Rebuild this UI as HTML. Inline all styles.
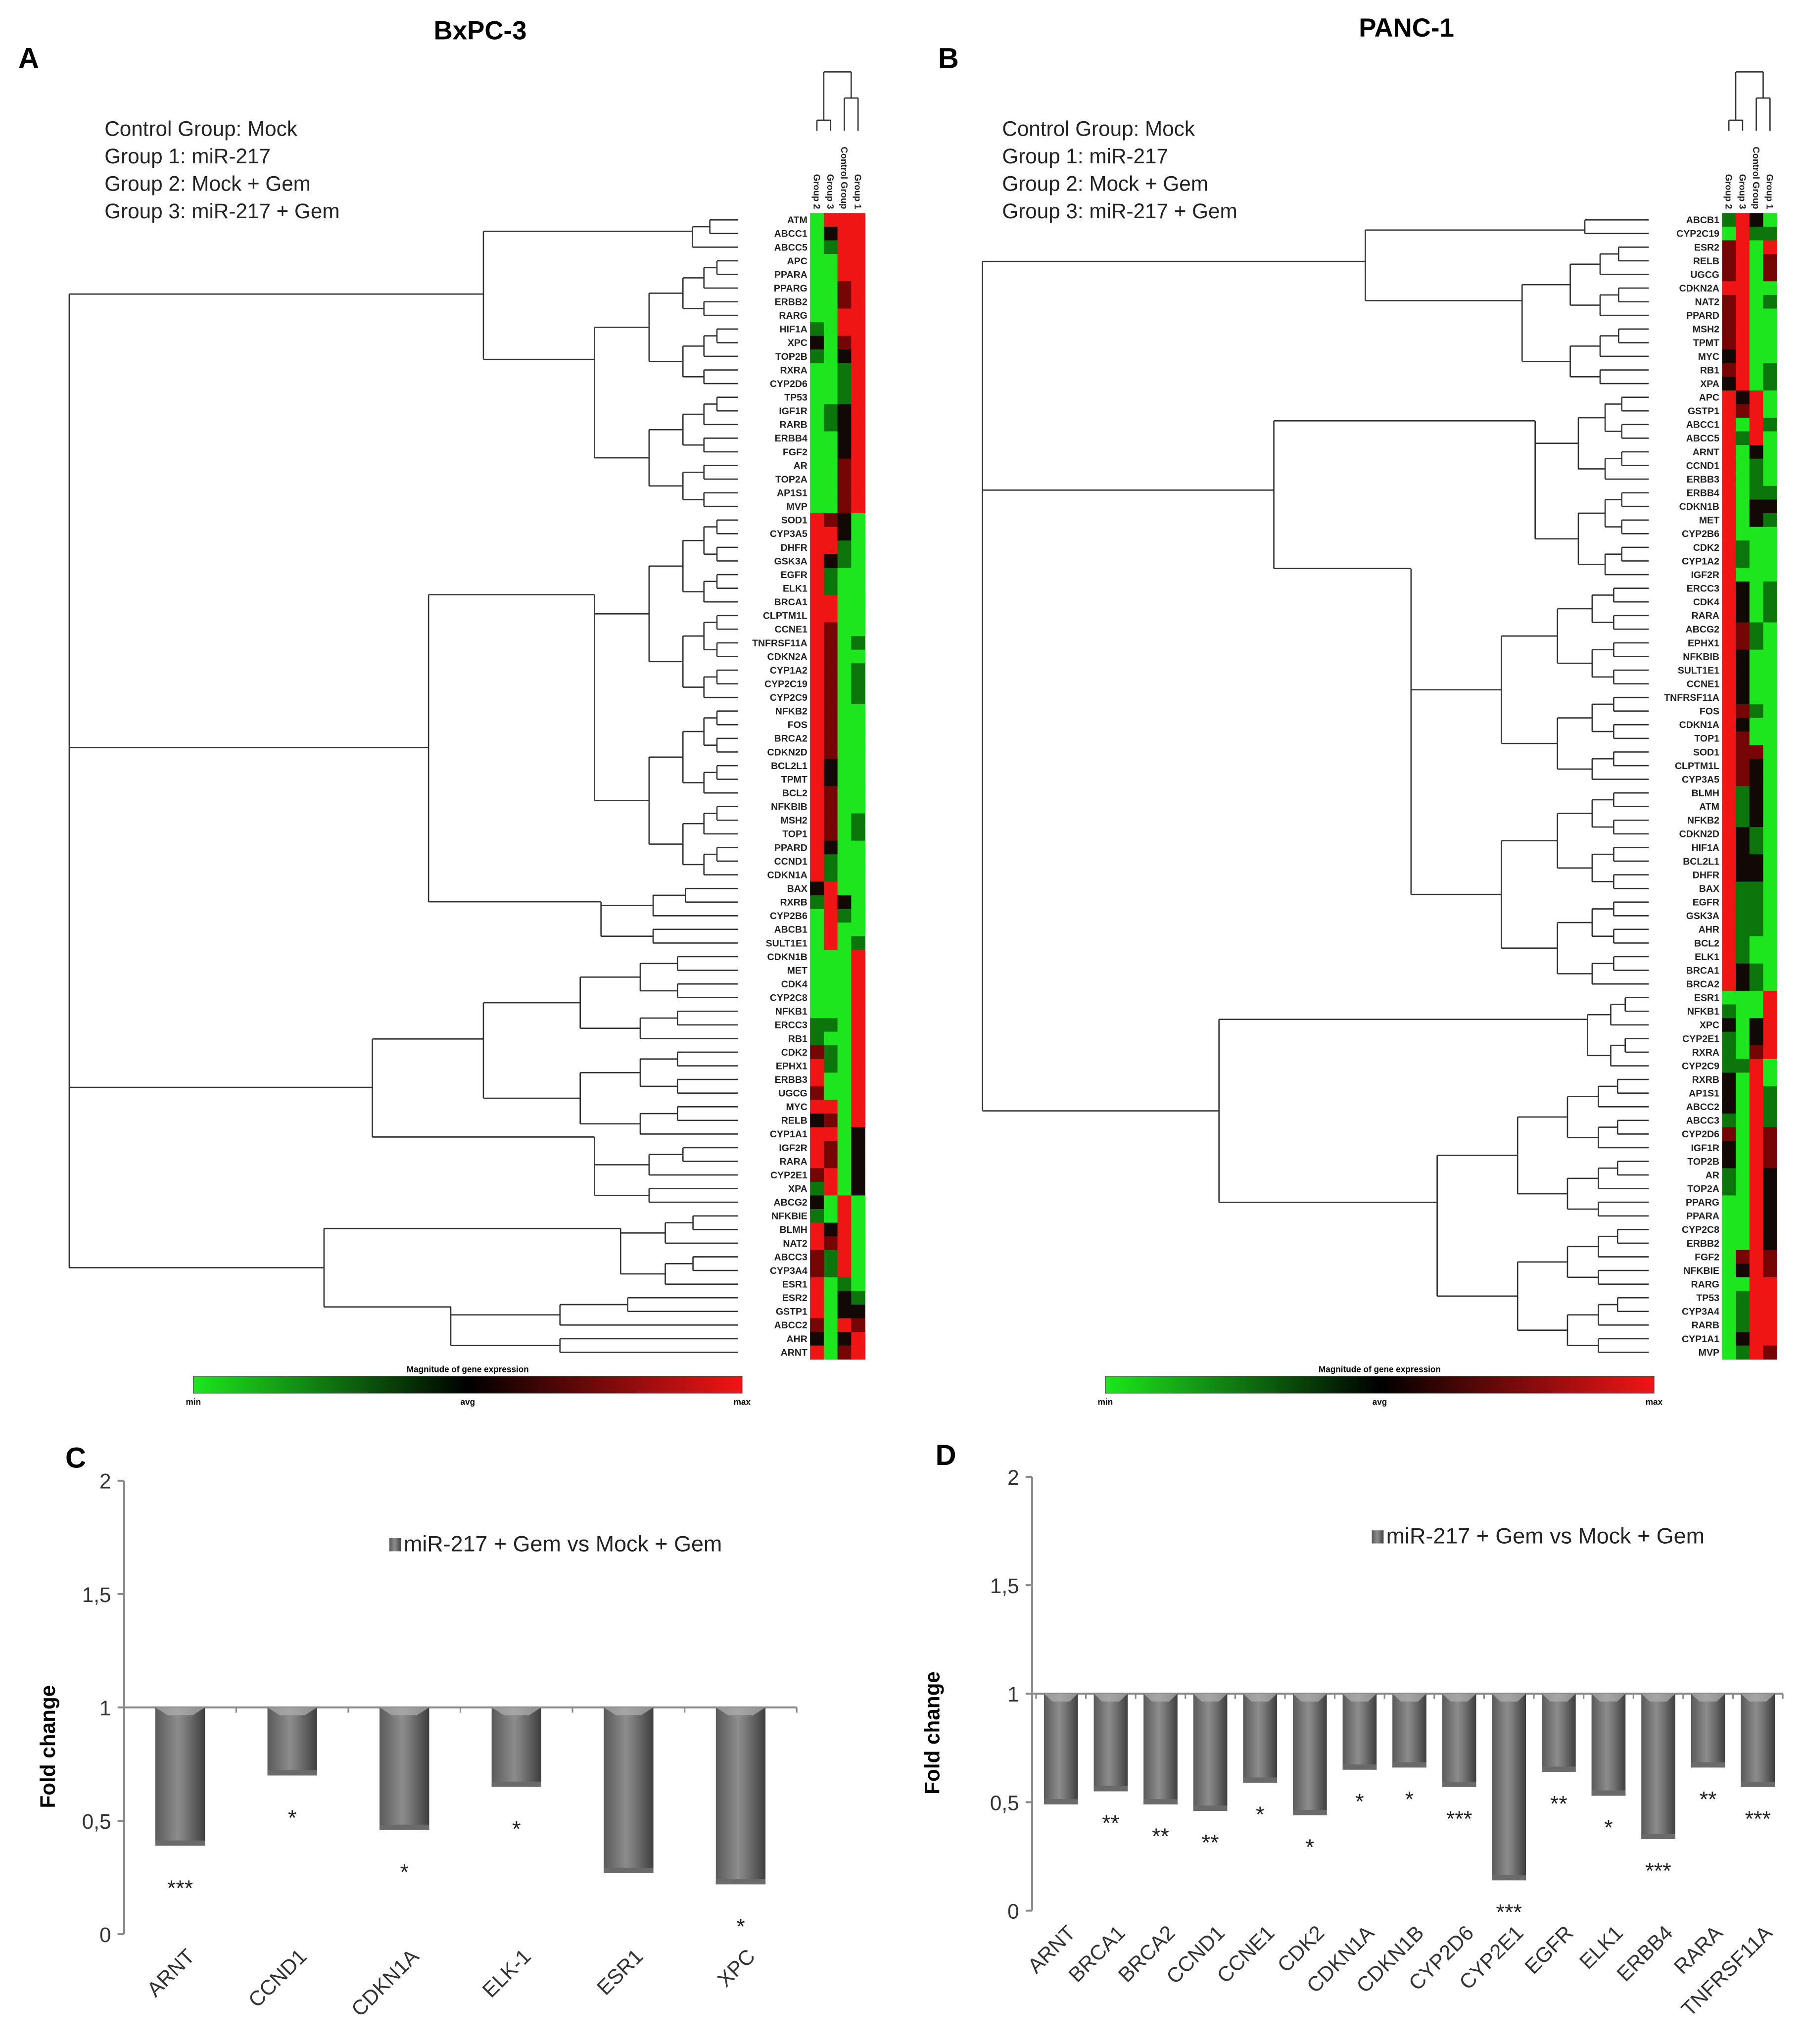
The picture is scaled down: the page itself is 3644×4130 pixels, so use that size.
<!DOCTYPE html>
<html><head><meta charset="utf-8">
<style>
html,body{margin:0;padding:0;background:#fff;}
svg{display:block;font-family:"Liberation Sans",Arial,sans-serif;}
</style></head>
<body>
<svg id="fig" xmlns="http://www.w3.org/2000/svg" width="3644" height="4130" viewBox="0 0 1380 1564">
<defs>
<linearGradient id="cyl" x1="0" x2="1" y1="0" y2="0">
<stop offset="0" stop-color="#5a5a5a"/><stop offset="0.45" stop-color="#8c8c8c"/><stop offset="0.6" stop-color="#7a7a7a"/><stop offset="1" stop-color="#3e3e3e"/>
</linearGradient>
<linearGradient id="scale" x1="0" x2="1" y1="0" y2="0">
<stop offset="0" stop-color="#1ee61e"/><stop offset="0.5" stop-color="#000"/><stop offset="1" stop-color="#f01515"/>
</linearGradient>
</defs>
<rect x="0" y="0" width="1380" height="1564" fill="#fff"/>
<text x="332" y="30" font-size="20" font-weight="bold">BxPC-3</text>
<text x="1040" y="28" font-size="20" font-weight="bold">PANC-1</text>
<text x="14" y="52" font-size="22" font-weight="bold">A</text>
<text x="718" y="52" font-size="22" font-weight="bold">B</text>
<text x="50" y="1123" font-size="22" font-weight="bold">C</text>
<text x="716" y="1121" font-size="22" font-weight="bold">D</text>
<g font-size="16" fill="#222">
<text x="80" y="104">Control Group: Mock</text><text x="80" y="125">Group 1: miR-217</text><text x="80" y="146">Group 2: Mock + Gem</text><text x="80" y="167">Group 3: miR-217 + Gem</text>
</g>
<g font-size="16" fill="#222">
<text x="767" y="104">Control Group: Mock</text><text x="767" y="125">Group 1: miR-217</text><text x="767" y="146">Group 2: Mock + Gem</text><text x="767" y="167">Group 3: miR-217 + Gem</text>
</g>
<g id="layer"></g>
</svg>
<script>
const genesA=["ATM","ABCC1","ABCC5","APC","PPARA","PPARG","ERBB2","RARG","HIF1A","XPC","TOP2B","RXRA","CYP2D6","TP53","IGF1R","RARB","ERBB4","FGF2","AR","TOP2A","AP1S1","MVP","SOD1","CYP3A5","DHFR","GSK3A","EGFR","ELK1","BRCA1","CLPTM1L","CCNE1","TNFRSF11A","CDKN2A","CYP1A2","CYP2C19","CYP2C9","NFKB2","FOS","BRCA2","CDKN2D","BCL2L1","TPMT","BCL2","NFKBIB","MSH2","TOP1","PPARD","CCND1","CDKN1A","BAX","RXRB","CYP2B6","ABCB1","SULT1E1","CDKN1B","MET","CDK4","CYP2C8","NFKB1","ERCC3","RB1","CDK2","EPHX1","ERBB3","UGCG","MYC","RELB","CYP1A1","IGF2R","RARA","CYP2E1","XPA","ABCG2","NFKBIE","BLMH","NAT2","ABCC3","CYP3A4","ESR1","ESR2","GSTP1","ABCC2","AHR","ARNT"];
const cellsA=["GRRR","GkRR","GgRR","GGRR","GGRR","GGrR","GGrR","GGRR","gGRR","kGrR","gGkR","GGgR","GGgR","GGgR","GgkR","GgkR","GGkR","GGkR","GGrR","GGrR","GGrR","GGrR","RrkG","RRkG","RRgG","RkgG","RgGG","RgGG","RRGG","RRGG","RrGG","RrGg","RrGG","RrGg","RrGg","RrGg","RrGG","RrGG","RrGG","RrGG","RkGG","RkGG","RrGG","RrGG","RrGg","RrGg","RkGG","RgGG","RgGG","kRGG","gRkG","GRgG","GRGG","GRGg","GGGR","GGGR","GGGR","GGGR","GGGR","ggGR","gGGR","rgGR","RgGR","RGGR","rGGR","RRGR","krGR","RRGk","RrGk","RrGk","rRGk","gRGk","kGRG","gGRG","RkRG","RrRG","rgRG","rgRG","RGgG","RGkg","RGkk","rGRr","kGkR","RGrR"];
const genesB=["ABCB1","CYP2C19","ESR2","RELB","UGCG","CDKN2A","NAT2","PPARD","MSH2","TPMT","MYC","RB1","XPA","APC","GSTP1","ABCC1","ABCC5","ARNT","CCND1","ERBB3","ERBB4","CDKN1B","MET","CYP2B6","CDK2","CYP1A2","IGF2R","ERCC3","CDK4","RARA","ABCG2","EPHX1","NFKBIB","SULT1E1","CCNE1","TNFRSF11A","FOS","CDKN1A","TOP1","SOD1","CLPTM1L","CYP3A5","BLMH","ATM","NFKB2","CDKN2D","HIF1A","BCL2L1","DHFR","BAX","EGFR","GSK3A","AHR","BCL2","ELK1","BRCA1","BRCA2","ESR1","NFKB1","XPC","CYP2E1","RXRA","CYP2C9","RXRB","AP1S1","ABCC2","ABCC3","CYP2D6","IGF1R","TOP2B","AR","TOP2A","PPARG","PPARA","CYP2C8","ERBB2","FGF2","NFKBIE","RARG","TP53","CYP3A4","RARB","CYP1A1","MVP"];
const cellsB=["gRkG","GRgg","rRGR","rRGr","rRGr","RRGG","rRGg","rRGG","rRGG","rRGG","kRGG","rRGg","kRGg","RkRG","RrRG","RGRg","RgRG","RGkG","RGgG","RGgG","RGgg","RGkk","RGkg","RGGG","RgGG","RgGG","RGGG","RkGg","RkGg","RkGg","RrgG","RrgG","RkGG","RkGG","RkGG","RkGG","RrgG","RkGG","RrGG","RrrG","RrkG","RrkG","RgkG","RgkG","RgkG","RkgG","RkgG","RkkG","RkkG","RggG","RggG","RggG","RggG","RgGG","RgGG","RkgG","RkgG","GGGR","gGGR","kGkR","gGkR","gGrR","ggRG","kGRG","kGRg","kGRg","gGRg","rGRr","kGRr","kGRr","gGRk","gGRk","GGRk","GGRk","GGRk","GGRk","GrRr","GkRr","GGRR","GgRR","GgRR","GgRR","GkRR","GgRr"];
const columnLabels=["Group 2","Group 3","Control Group","Group 1"];
const categoriesC=["ARNT","CCND1","CDKN1A","ELK-1","ESR1","XPC"];
const valuesC=[0.39,0.70,0.46,0.65,0.27,0.22];
const starsC=["***","*","*","*","","*"];
const categoriesD=["ARNT","BRCA1","BRCA2","CCND1","CCNE1","CDK2","CDKN1A","CDKN1B","CYP2D6","CYP2E1","EGFR","ELK1","ERBB4","RARA","TNFRSF11A"];
const valuesD=[0.49,0.55,0.49,0.46,0.59,0.44,0.65,0.66,0.57,0.14,0.64,0.53,0.33,0.66,0.57];
const starsD=["","**","**","**","*","*","*","*","***","***","**","*","***","**","***"];
const yTickValues=[0,0.5,1,1.5,2];
const yTickLabels=["0","0,5","1","1,5","2"];

const NS="http://www.w3.org/2000/svg";
const layer=document.getElementById('layer');
const COL={G:"#1ee61e",g:"#0c760c",k:"#120806",r:"#760606",R:"#f01515"};
function mk(tag,attrs,parent){const e=document.createElementNS(NS,tag);for(const k in attrs)e.setAttribute(k,attrs[k]);(parent||layer).appendChild(e);return e;}
function line(x1,y1,x2,y2,p,c,w){return mk('line',{x1,y1,x2,y2,stroke:c||'#333','stroke-width':w||1},p);}

function heatPanel(genes,cells,hx,top,bottom,leafX,spec,pname){
  const g=mk('g',{});
  
  
  const rh=(bottom-top)/genes.length, cw=10.5;
  const rowY=i=>top+rh*(i+0.5);
  genes.forEach((name,i)=>{
    for(let c=0;c<4;c++){
      const r=mk('rect',{x:hx+c*cw,y:top+rh*i,width:cw+0.3,height:rh+0.3,fill:COL[cells[i][c]]},g);
      
      
    }
    const t=mk('text',{x:hx-2,y:rowY(i)+2.6,'font-size':7.4,'font-weight':'bold','text-anchor':'end',fill:'#222'},g);
    t.textContent=name;
    
    
  });
  columnLabels.forEach((lab,c)=>{
    const cx=hx+c*cw+cw/2-2.5;
    const t=mk('text',{x:0,y:0,'font-size':7,'font-weight':'bold',fill:'#222','text-anchor':'end',transform:`translate(${cx},160) rotate(90)`},g);
    t.textContent=lab;
    
    
  });
  const cc=c=>hx+c*cw+cw/2;
  const dg=mk('g',{},g);
  
  
  line(cc(0),100,cc(0),92,dg);line(cc(1),100,cc(1),92,dg);line(cc(0),92,cc(1),92,dg);
  line(cc(2),100,cc(2),75,dg);line(cc(3),100,cc(3),75,dg);line(cc(2),75,cc(3),75,dg);
  const m1=(cc(0)+cc(1))/2,m2=(cc(2)+cc(3))/2;
  line(m1,92,m1,55,dg);line(m2,75,m2,55,dg);line(m1,55,m2,55,dg);
  const rg=mk('g',{},g);
  
  
  function node(s,x){
    let ys;
    if(s.r){
      const lo=s.r[0],hi=s.r[1];
      if(lo===hi){line(x,rowY(lo),leafX,rowY(lo),rg);return rowY(lo);}
      const mid=Math.floor((lo+hi)/2);
      const kids=[{r:[lo,mid]},{r:[mid+1,hi]}];
      ys=kids.map(k=>{
        if(k.r[0]===k.r[1]){const y=rowY(k.r[0]);line(x,y,leafX,y,rg);return y;}
        const cx=x+(leafX-x)*0.38;const y=node(k,cx);line(x,y,cx,y,rg);return y;});
    } else {
      ys=s.kids.map(k=>{const y=node(k,k.x);line(x,y,k.x,y,rg);return y;});
    }
    const yo=(s.y!==undefined)?s.y:(Math.min(...ys)+Math.max(...ys))/2;
    line(x,Math.min(yo,...ys),x,Math.max(yo,...ys),rg);
    return yo;
  }
  node(spec,spec.x);
}
heatPanel(genesA,cellsA,620,163,1040,565,{x:53,kids:[
 {x:370,y:225,kids:[{r:[0,2],x:530,y:177},{r:[3,21],x:455,y:275}]},
 {x:328,y:572,kids:[{r:[22,48],x:455,y:455},{r:[49,53],x:460,y:690}]},
 {x:285,y:832,kids:[{r:[54,67],x:370,y:795},{r:[68,72],x:455,y:870}]},
 {x:248,y:970,kids:[{r:[73,78],x:475,y:940},{r:[79,83],x:345,y:1000}]}]},'bxpc3');
heatPanel(genesB,cellsB,1318,163,1040,1262,{x:752,kids:[
 {x:1045,y:200,kids:[{r:[0,1],x:1213,y:176},{r:[2,12],x:1165,y:230}]},
 {x:975,y:375,kids:[{r:[13,26],x:1175,y:322},{r:[27,56],x:1080,y:435}]},
 {x:933,y:850,kids:[{r:[57,62],x:1215,y:780},{r:[63,83],x:1100,y:920}]}]},'panc1');

function colorScale(x0,pname){
  const g=mk('g',{});
  
  
  mk('rect',{x:x0,y:1053,width:420,height:13,fill:'url(#scale)',stroke:'#444','stroke-width':0.5},g);
  const t=mk('text',{x:x0+210,y:1050,'font-size':6.5,'font-weight':'bold','text-anchor':'middle'},g);t.textContent='Magnitude of gene expression';
  [['min',0],['avg',210],['max',420]].forEach(([s,dx])=>{const q=mk('text',{x:x0+dx,y:1075,'font-size':6.5,'font-weight':'bold','text-anchor':'middle'},g);q.textContent=s;});
}
colorScale(148,'bxpc3');colorScale(846,'panc1');

function barChart(cats,vals,stars,o,pname){
  const g=mk('g',{});
  
  
  const ys=v=>o.y0-(v/2)*(o.y0-o.y2);
  const xs=i=>o.x1+o.step*(i+0.5);
  const ax='#8a8a8a';
  line(o.ax,o.y2,o.ax,o.y0,g,ax,1.5);
  yTickValues.forEach((v,i)=>{line(o.ax-5,ys(v),o.ax,ys(v),g,ax,1.5);
    const t=mk('text',{x:o.ax-10,y:ys(v)+6,'font-size':16,'text-anchor':'end',fill:'#333'},g);t.textContent=yTickLabels[i];
    
    });
  const xr=o.x1+o.step*cats.length;
  line(o.ax,ys(1),xr,ys(1),g,ax,1.5);
  for(let i=0;i<=cats.length;i++)line(o.x1+o.step*i,ys(1),o.x1+o.step*i,ys(1)+4,g,ax,1.2);
  cats.forEach((c,i)=>{
    const x=xs(i)-o.bw/2,yt=ys(1),yb=ys(vals[i]);
    const b=mk('rect',{x,y:yt,width:o.bw,height:yb-yt,fill:'url(#cyl)'},g);
    
    
    mk('polygon',{points:`${x},${yt} ${x+o.bw},${yt} ${x+o.bw*0.75},${yt+6} ${x+o.bw*0.25},${yt+6}`,fill:'#b0b0b0',opacity:0.7},g);
    mk('rect',{x,y:yb-4,width:o.bw,height:4,fill:'#6a6a6a'},g);
    if(stars[i]){const s=mk('text',{x:xs(i),y:yb+o.sd,'font-size':17,'text-anchor':'middle',fill:'#222'},g);s.textContent=stars[i];
      
      }
    const l=mk('text',{x:0,y:0,'font-size':16,'text-anchor':'end',fill:'#333',transform:`translate(${xs(i)+12},${o.ly}) rotate(-45)`},g);l.textContent=c;
    
    
  });
  const ft=mk('text',{x:0,y:0,'font-size':16,'font-weight':'bold','text-anchor':'middle',transform:`translate(${o.fx},${(o.y0+o.y2)/2+30}) rotate(-90)`},g);ft.textContent='Fold change';
  
  
  const lg=mk('g',{},g);
  
  
  mk('rect',{x:o.lx,y:o.lyy-10,width:9,height:10,fill:'url(#cyl)'},lg);
  const lt=mk('text',{x:o.lx+11,y:o.lyy,'font-size':17,fill:'#222'},lg);lt.textContent='miR-217 + Gem vs Mock + Gem';
}
barChart(categoriesC,valuesC,starsC,{ax:95,x1:95,step:85.8,bw:38,y0:1480,y2:1133,sd:38,ly:1498,fx:42,lx:298,lyy:1187},'bxpc3');
barChart(categoriesD,valuesD,starsD,{ax:790,x1:793,step:38.1,bw:26,y0:1462,y2:1130,sd:30,ly:1480,fx:719,lx:1050,lyy:1181},'panc1');
</script>
</body></html>
